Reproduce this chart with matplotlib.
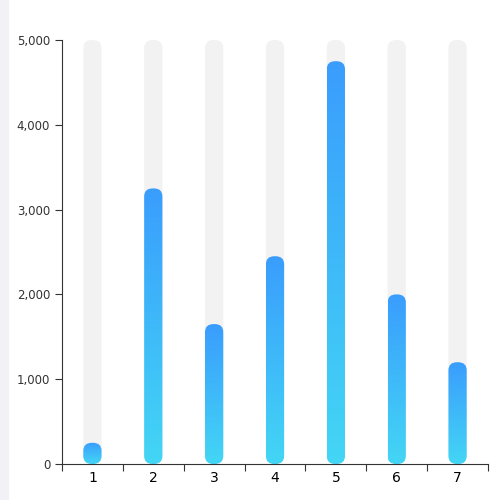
import numpy as np
import matplotlib.pyplot as plt
from matplotlib.patches import FancyBboxPatch, Rectangle
from matplotlib.colors import LinearSegmentedColormap

# data
categories = ["1", "2", "3", "4", "5", "6", "7"]
values = [250, 3250, 1650, 2450, 4750, 2000, 1200]
bg_value = 5000

fig = plt.figure(figsize=(5, 5), dpi=100)
fig.patches.append(Rectangle((0, 0), 0.016, 1, transform=fig.transFigure,
                             color="#f1f1f6", zorder=0))
ax = fig.add_axes([0.124, 0.072, 0.852, 0.848])

cmap = LinearSegmentedColormap.from_list("g", ["#43d6f5", "#3a9dfd"])
grad = np.linspace(0, 1, 256).reshape(-1, 1)
w = 0.3
r = 0.14
asp = 95 / 0.14

for i, v in enumerate(values):
    bg = FancyBboxPatch((i - w / 2, 0), w, bg_value,
                        boxstyle=f"round,pad=0,rounding_size={r}",
                        mutation_aspect=asp, fc="#f2f2f2", ec="none", zorder=1)
    ax.add_patch(bg)
    bar = FancyBboxPatch((i - w / 2, 0), w, v,
                         boxstyle=f"round,pad=0,rounding_size={r}",
                         mutation_aspect=asp, fc="none", ec="none", zorder=2)
    ax.add_patch(bar)
    im = ax.imshow(grad, cmap=cmap, origin="lower", aspect="auto",
                   extent=[i - w / 2, i + w / 2, 0, v], zorder=2)
    im.set_clip_path(bar)

ax.set_xlim(-0.5, len(values) - 0.5)
ax.set_ylim(0, 5000)
ax.set_yticks(range(0, 5001, 1000))
ax.set_yticklabels([f"{t:,}" for t in range(0, 5001, 1000)])
ax.set_xticks(np.arange(-0.5, len(values), 1))
ax.set_xticklabels([])
ax.set_xticks(range(len(values)), minor=True)
ax.set_xticklabels(categories, minor=True)
ax.tick_params(axis="x", which="minor", length=0, pad=5)
ax.tick_params(axis="x", which="major", length=5, color="#333333")
ax.tick_params(axis="y", length=5, color="#333333")
ax.tick_params(labelsize=8.5, labelcolor="#333333")
for s in ["top", "right"]:
    ax.spines[s].set_visible(False)
for s in ["left", "bottom"]:
    ax.spines[s].set_color("#333333")

fig.savefig("out.png", dpi=100)
